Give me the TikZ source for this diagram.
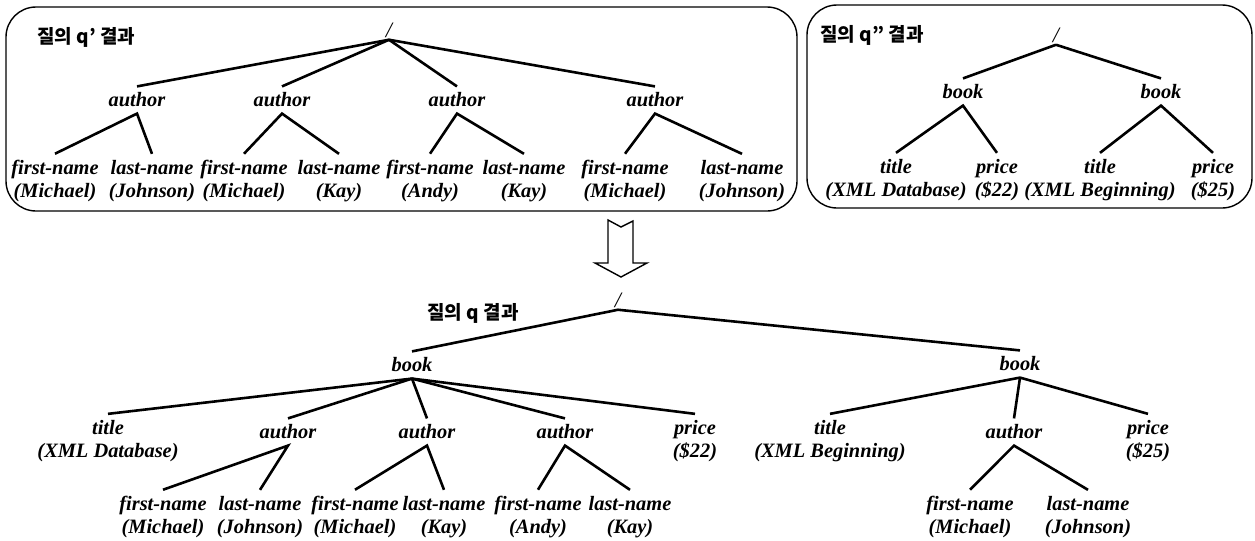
\documentclass[tikz,border=0pt]{standalone}
\usepackage{fontspec}
\setmainfont{Liberation Serif}
\newfontfamily\kofont{Noto Sans CJK KR}
\usetikzlibrary{positioning}

\tikzset{
	elem/.style={font=\bfseries\itshape\fontsize{10.2}{11.5}\selectfont, inner sep=3pt, align=center},
	slash/.style={font=\itshape\fontsize{11}{12}\selectfont, inner sep=1pt},
	qlabel/.style={font=\kofont\bfseries\fontsize{9.5}{10}\selectfont, inner sep=0pt, anchor=west},
	edge/.style={line width=1.3pt},
	box/.style={draw, line width=0.7pt, rounded corners=15pt}
}

\begin{document}
\begin{tikzpicture}[x=0.5pt, y=-0.5pt]
	\useasboundingbox (0,0) rectangle (1255,541);

	% query q' result
	\draw[box] (6,7) rectangle (797,211);
	\node[qlabel] at (37,37) {질의 q’ 결과};
	\node[slash] (r1) at (389,30) {/};
	\foreach \x/\n in {137/1, 282/2, 457/3, 655/4}
		\node[elem] (a\n) at (\x,100) {author};
	\node[elem] (f1) at (55,181) {first-name\\(Michael)};
	\node[elem] (l1) at (152,181) {last-name\\(Johnson)};
	\node[elem] (f2) at (244,181) {first-name\\(Michael)};
	\node[elem] (l2) at (339,181) {last-name\\(Kay)};
	\node[elem] (f3) at (430,181) {first-name\\(Andy)};
	\node[elem] (l3) at (524,181) {last-name\\(Kay)};
	\node[elem] (f4) at (625,181) {first-name\\(Michael)};
	\node[elem] (l4) at (742,181) {last-name\\(Johnson)};
	\foreach \n in {1,...,4} {
		\draw[edge] (r1.south) -- (a\n.north);
		\draw[edge] (f\n.north) -- (a\n.south) -- (l\n.north);
	}

	% query q'' result
	\draw[box] (807,5) rectangle (1252,208);
	\node[qlabel] at (820,35) {질의 q” 결과};
	\node[slash] (r2) at (1056,35) {/};
	\node[elem] (b1) at (963,92) {book};
	\node[elem] (b2) at (1161,92) {book};
	\node[elem] (t1) at (896,180) {title\\(XML Database)};
	\node[elem] (p1) at (997,180) {price\\(\$22)};
	\node[elem] (t2) at (1100,180) {title\\(XML Beginning)};
	\node[elem] (p2) at (1213,180) {price\\(\$25)};
	\foreach \n in {1,2} {
		\draw[edge] (r2.south) -- (b\n.north);
		\draw[edge] (t\n.north) -- (b\n.south) -- (p\n.north);
	}

	% arrow
	\draw[line width=0.7pt] (608,220) -- (621,227) -- (633,221) -- (633,263) -- (647,263)
		-- (621,277) -- (595,263) -- (608,263) -- cycle;

	% query q result
	\node[qlabel] at (427,313) {질의 q 결과};
	\node[slash] (r) at (618,300) {/};
	\node[elem] (bk1) at (412,365) {book};
	\node[elem] (bk2) at (1020,364) {book};
	\node[elem] (tt1) at (108,441) {title\\(XML Database)};
	\node[elem] (au1) at (288,432) {author};
	\node[elem] (au2) at (427,432) {author};
	\node[elem] (au3) at (565,432) {author};
	\node[elem] (pr1) at (695,441) {price\\(\$22)};
	\node[elem] (tt2) at (830,441) {title\\(XML Beginning)};
	\node[elem] (au4) at (1014,432) {author};
	\node[elem] (pr2) at (1148,441) {price\\(\$25)};
	\node[elem] (fn1) at (163,517) {first-name\\(Michael)};
	\node[elem] (ln1) at (260,517) {last-name\\(Johnson)};
	\node[elem] (fn2) at (355,517) {first-name\\(Michael)};
	\node[elem] (ln2) at (444,517) {last-name\\(Kay)};
	\node[elem] (fn3) at (538,517) {first-name\\(Andy)};
	\node[elem] (ln3) at (630,517) {last-name\\(Kay)};
	\node[elem] (fn4) at (970,517) {first-name\\(Michael)};
	\node[elem] (ln4) at (1088,517) {last-name\\(Johnson)};
	\draw[edge] (bk1.north) -- (r.south) -- (bk2.north);
	\foreach \c in {tt1, au1, au2, au3, pr1}
		\draw[edge] (bk1.south) -- (\c.north);
	\foreach \c in {tt2, au4, pr2}
		\draw[edge] (bk2.south) -- (\c.north);
	\foreach \n in {1,...,4}
		\draw[edge] (fn\n.north) -- (au\n.south) -- (ln\n.north);
\end{tikzpicture}
\end{document}
